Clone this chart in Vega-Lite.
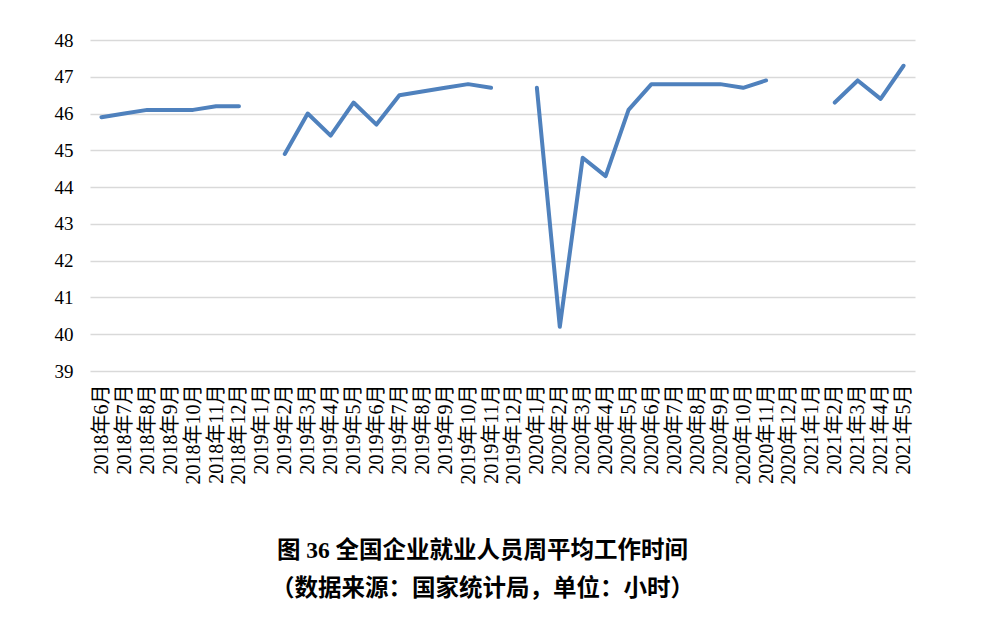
{
  "$schema": "https://vega.github.io/schema/vega-lite/v6.json",
  "width": 825,
  "height": 331,
  "autosize": {"type": "none"},
  "padding": {"left": 90, "top": 40, "right": 79, "bottom": 247},
  "background": "white",
  "title": {
    "text": ["图 36 全国企业就业人员周平均工作时间", "（数据来源：国家统计局，单位：小时）"],
    "orient": "bottom",
    "anchor": "middle",
    "dx": -20,
    "offset": 55,
    "font": "'Liberation Serif', 'Noto Sans CJK SC', serif",
    "fontSize": 23.5,
    "fontWeight": "bold",
    "lineHeight": 38,
    "color": "#000000"
  },
  "data": {
    "values": [
      {"month": "2018年6月", "hours": 45.9},
      {"month": "2018年7月", "hours": 46.0},
      {"month": "2018年8月", "hours": 46.1},
      {"month": "2018年9月", "hours": 46.1},
      {"month": "2018年10月", "hours": 46.1},
      {"month": "2018年11月", "hours": 46.2},
      {"month": "2018年12月", "hours": 46.2},
      {"month": "2019年1月", "hours": null},
      {"month": "2019年2月", "hours": 44.9},
      {"month": "2019年3月", "hours": 46.0},
      {"month": "2019年4月", "hours": 45.4},
      {"month": "2019年5月", "hours": 46.3},
      {"month": "2019年6月", "hours": 45.7},
      {"month": "2019年7月", "hours": 46.5},
      {"month": "2019年8月", "hours": 46.6},
      {"month": "2019年9月", "hours": 46.7},
      {"month": "2019年10月", "hours": 46.8},
      {"month": "2019年11月", "hours": 46.7},
      {"month": "2019年12月", "hours": null},
      {"month": "2020年1月", "hours": 46.7},
      {"month": "2020年2月", "hours": 40.2},
      {"month": "2020年3月", "hours": 44.8},
      {"month": "2020年4月", "hours": 44.3},
      {"month": "2020年5月", "hours": 46.1},
      {"month": "2020年6月", "hours": 46.8},
      {"month": "2020年7月", "hours": 46.8},
      {"month": "2020年8月", "hours": 46.8},
      {"month": "2020年9月", "hours": 46.8},
      {"month": "2020年10月", "hours": 46.7},
      {"month": "2020年11月", "hours": 46.9},
      {"month": "2020年12月", "hours": null},
      {"month": "2021年1月", "hours": null},
      {"month": "2021年2月", "hours": 46.3},
      {"month": "2021年3月", "hours": 46.9},
      {"month": "2021年4月", "hours": 46.4},
      {"month": "2021年5月", "hours": 47.3}
    ]
  },
  "mark": {"type": "line", "color": "#4f81bd", "strokeWidth": 4, "invalid": "break-paths-show-domains", "strokeCap": "round", "strokeJoin": "round"},
  "encoding": {
    "x": {
      "field": "month",
      "type": "ordinal",
      "sort": null,
      "scale": {"type": "point", "padding": 0.5},
      "axis": {
        "title": null,
        "labelAngle": -90,
        "labelAlign": "right",
        "labelBaseline": "middle",
        "labelPadding": 13,
        "labelFont": "'Liberation Serif', 'Noto Sans CJK SC', serif",
        "labelFontSize": 20,
        "labelColor": "#000000",
        "labelOverlap": false,
        "domain": false,
        "ticks": false,
        "grid": false
      }
    },
    "y": {
      "field": "hours",
      "type": "quantitative",
      "scale": {"domain": [39, 48], "nice": false, "zero": false},
      "axis": {
        "title": null,
        "values": [39, 40, 41, 42, 43, 44, 45, 46, 47, 48],
        "labelFont": "Liberation Serif",
        "labelFontSize": 19,
        "labelColor": "#000000",
        "labelPadding": 17,
        "domain": false,
        "ticks": false,
        "grid": true,
        "gridColor": "#d9d9d9",
        "gridWidth": 1.5
      }
    }
  },
  "config": {"view": {"stroke": null}}
}
